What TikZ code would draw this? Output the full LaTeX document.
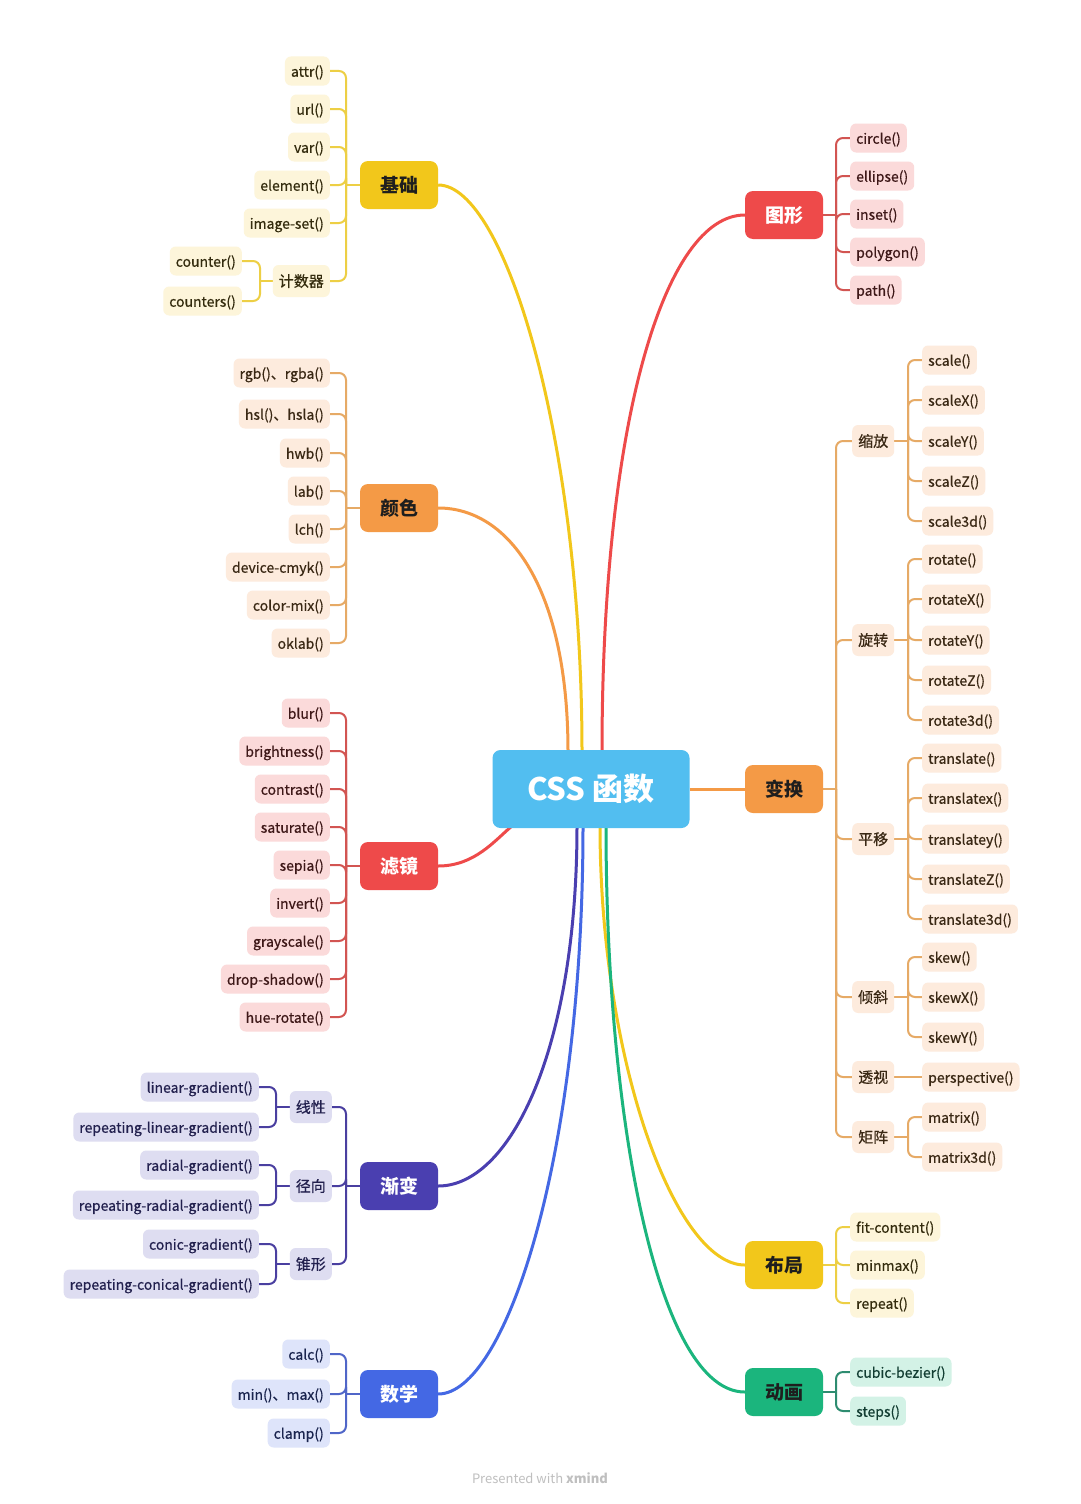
\documentclass[tikz,border=0pt]{standalone}
\usepackage{fontspec}
\setmainfont{Noto Sans CJK SC}
\newfontfamily\leaffont{Noto Sans CJK SC}[FakeBold=0.6]
\usetikzlibrary{calc}
\pgfdeclarelayer{bg}\pgfdeclarelayer{lines}\pgfsetlayers{bg,lines,main}
\definecolor{Cc}{HTML}{52BEF0}
\definecolor{Cy}{HTML}{F2C71B}
\definecolor{Co}{HTML}{F49A46}
\definecolor{Cr}{HTML}{EE4A4A}
\definecolor{Ci}{HTML}{4A3FB0}
\definecolor{Cb}{HTML}{4468E4}
\definecolor{Cg}{HTML}{1BB57D}
\definecolor{Fy}{HTML}{FDF5DA}
\definecolor{Fo}{HTML}{FDEBDD}
\definecolor{Fr}{HTML}{FBDADA}
\definecolor{Fi}{HTML}{DEDDF1}
\definecolor{Fb}{HTML}{DEE4FA}
\definecolor{Fg}{HTML}{D3F2E6}
\definecolor{Ly}{HTML}{EDCF45}
\definecolor{Lo}{HTML}{E6AA66}
\definecolor{Lr}{HTML}{D25552}
\definecolor{Li}{HTML}{4A3FA0}
\definecolor{Lb}{HTML}{5066C8}
\definecolor{Lg}{HTML}{2E8C70}
\definecolor{Ty}{HTML}{342C0E}
\definecolor{To}{HTML}{3A2814}
\definecolor{Tr}{HTML}{3E1818}
\definecolor{Ti}{HTML}{22204E}
\definecolor{Tb}{HTML}{1A244E}
\definecolor{Tg}{HTML}{123D32}
\definecolor{Tk}{HTML}{1E1E1E}
\begin{document}
\begin{tikzpicture}[x=1pt,y=-1pt,
  mainnode/.style={fill=Cc, rounded corners=8pt, minimum width=197pt, minimum height=78pt, text=white, font=\fontsize{31}{31}\selectfont\bfseries},
  branch/.style={rounded corners=8pt, minimum width=78pt, minimum height=48pt, inner sep=0pt, font=\fontsize{19}{19}\selectfont\bfseries},
  leaf/.style={rounded corners=6pt, inner xsep=6pt, inner ysep=0pt, minimum height=29pt, text height=12.5pt, text depth=1pt, font=\fontsize{14}{14}\selectfont\leaffont},
  subt/.style={leaf, font=\fontsize{15}{15}\selectfont\leaffont, minimum height=32pt},
  yl/.style={fill=Fy, text=Ty}, ol/.style={fill=Fo, text=To}, rl/.style={fill=Fr, text=Tr},
  il/.style={fill=Fi, text=Ti}, bl/.style={fill=Fb, text=Tb}, gl/.style={fill=Fg, text=Tg},
  conn/.style={line width=3pt},
  brk/.style={line width=2pt, rounded corners=7pt},
]
\begin{pgfonlayer}{bg}\fill[white] (0,0) rectangle (1080,1504);\end{pgfonlayer}
\useasboundingbox (0,0) rectangle (1080,1504);

% centre
\node[mainnode] (cen) at (591,789) {CSS 函数};
\coordinate (cT1) at (568,752);
\coordinate (cT2) at (582,752);
\coordinate (cT3) at (602,752);
\coordinate (cB1) at (577,826);
\coordinate (cB2) at (583,826);
\coordinate (cB3) at (600,826);
\coordinate (cB4) at (606,826);
\coordinate (cL1) at (512,826);

% ---------------- 基础
\node[branch, fill=Cy, text=Tk] (jc) at (399,185) {基础};
\coordinate (jcB) at (346,185);
\foreach \n/\y/\lab in {jc1/71/attr(), jc2/109/url(), jc3/147/var(), jc4/185/element(), jc5/223/image-set()}{
  \node[leaf, yl, anchor=east] (\n) at (330,\y) {\lab};
  \begin{pgfonlayer}{lines}\draw[brk, Ly] (jcB) |- (\n.east);\end{pgfonlayer}
}
\node[subt, yl, anchor=east] (jsq) at (330,281) {计数器};
\coordinate (jsqB) at (260,281);
\node[leaf, yl, anchor=east] (jsq1) at (242,261) {counter()};
\node[leaf, yl, anchor=east] (jsq2) at (242,301) {counters()};
\begin{pgfonlayer}{lines}
\draw[brk, Ly] (jcB) |- (jsq.east);
\draw[brk, Ly] (jc.west) -- (jcB);
\draw[brk, Ly] (jsq.west) -- (jsqB);
\draw[brk, Ly] (jsqB) |- (jsq1.east);
\draw[brk, Ly] (jsqB) |- (jsq2.east);
\draw[conn, Cy] (jc.east) .. controls (505,185) and (582,440) .. (cT2);
\end{pgfonlayer}

% ---------------- 颜色
\node[branch, fill=Co, text=Tk] (ys) at (399,508) {颜色};
\coordinate (ysB) at (346,508);
\foreach \n/\y/\lab in {ys1/373/rgb()、rgba(), ys2/414/hsl()、hsla(), ys3/453/hwb(), ys4/491/lab(), ys5/529/lch(), ys6/567/device-cmyk(), ys7/605/color-mix(), ys8/643/oklab()}{
  \node[leaf, ol, anchor=east] (\n) at (330,\y) {\lab};
  \begin{pgfonlayer}{lines}\draw[brk, Lo] (ysB) |- (\n.east);\end{pgfonlayer}
}
\begin{pgfonlayer}{lines}
\draw[brk, Lo] (ys.west) -- (ysB);
\draw[conn, Co] (ys.east) .. controls (510,508) and (568,590) .. (cT1);
\end{pgfonlayer}

% ---------------- 滤镜
\node[branch, fill=Cr, text=white] (lj) at (399,866) {滤镜};
\coordinate (ljB) at (346,866);
\foreach \n/\y/\lab in {lj1/713/blur(), lj2/751/brightness(), lj3/789/contrast(), lj4/827/saturate(), lj5/865/sepia(), lj6/903/invert(), lj7/941/grayscale(), lj8/979/drop-shadow(), lj9/1017/hue-rotate()}{
  \node[leaf, rl, anchor=east] (\n) at (330,\y) {\lab};
  \begin{pgfonlayer}{lines}\draw[brk, Lr] (ljB) |- (\n.east);\end{pgfonlayer}
}
\begin{pgfonlayer}{lines}
\draw[brk, Lr] (lj.west) -- (ljB);
\draw[conn, Cr] (lj.east) .. controls (475,866) and (495,840) .. (cL1);
\end{pgfonlayer}

% ---------------- 渐变
\node[branch, fill=Ci, text=white] (jb) at (399,1186) {渐变};
\coordinate (jbB) at (346,1186);
\foreach \s/\y/\lab/\ya/\la/\yb/\lb in {
  jx/1107/线性/1087/linear-gradient()/1127/repeating-linear-gradient(),
  jj/1186/径向/1165/radial-gradient()/1205/repeating-radial-gradient(),
  jz/1264/锥形/1244/conic-gradient()/1284/repeating-conical-gradient()}{
  \node[subt, il, anchor=east] (\s) at (332,\y) {\lab};
  \coordinate (\s B) at (276,\y);
  \node[leaf, il, anchor=east] (\s1) at (259,\ya) {\la};
  \node[leaf, il, anchor=east] (\s2) at (259,\yb) {\lb};
  \begin{pgfonlayer}{lines}
  \draw[brk, Li] (jbB) |- (\s.east);
  \draw[brk, Li] (\s.west) -- (\s B);
  \draw[brk, Li] (\s B) |- (\s1.east);
  \draw[brk, Li] (\s B) |- (\s2.east);
  \end{pgfonlayer}
}
\begin{pgfonlayer}{lines}
\draw[brk, Li] (jb.west) -- (jbB);
\draw[conn, Ci] (jb.east) .. controls (510,1186) and (577,1050) .. (cB1);
\end{pgfonlayer}

% ---------------- 数学
\node[branch, fill=Cb, text=white] (sx) at (399,1394) {数学};
\coordinate (sxB) at (346,1394);
\foreach \n/\y/\lab in {sx1/1354/calc(), sx2/1394/min()、max(), sx3/1433/clamp()}{
  \node[leaf, bl, anchor=east] (\n) at (330,\y) {\lab};
  \begin{pgfonlayer}{lines}\draw[brk, Lb] (sxB) |- (\n.east);\end{pgfonlayer}
}
\begin{pgfonlayer}{lines}
\draw[brk, Lb] (sx.west) -- (sxB);
\draw[conn, Cb] (sx.east) .. controls (505,1394) and (583,1160) .. (cB2);
\end{pgfonlayer}

% ---------------- 图形
\node[branch, fill=Cr, text=white] (tx) at (784,215) {图形};
\coordinate (txB) at (836,215);
\foreach \n/\y/\lab in {tx1/138/circle(), tx2/176/ellipse(), tx3/214/inset(), tx4/252/polygon(), tx5/290/path()}{
  \node[leaf, rl, anchor=west] (\n) at (850,\y) {\lab};
  \begin{pgfonlayer}{lines}\draw[brk, Lr] (txB) |- (\n.west);\end{pgfonlayer}
}
\begin{pgfonlayer}{lines}
\draw[brk, Lr] (tx.east) -- (txB);
\draw[conn, Cr] (tx.west) .. controls (665,215) and (602,420) .. (cT3);
\end{pgfonlayer}

% ---------------- 变换
\node[branch, fill=Co, text=Tk] (bh) at (784,789) {变换};
\coordinate (bhB) at (836,789);
\begin{pgfonlayer}{lines}
\draw[conn, Co] (cen.east) -- (bh.west);
\draw[brk, Lo] (bh.east) -- (bhB);
\end{pgfonlayer}
\foreach \s/\y/\lab in {sf/441/缩放, xz/640/旋转, py/839/平移, qx/997/倾斜, ts/1077/透视, jz/1137/矩阵}{
  \node[subt, ol, anchor=west] (\s) at (852,\y) {\lab};
  \coordinate (\s B) at (908,\y);
  \begin{pgfonlayer}{lines}\draw[brk, Lo] (bhB) |- (\s.west);\end{pgfonlayer}
}
\foreach \p/\n/\y/\lab in {sf/sf1/360/scale(), sf/sf2/400/scaleX(), sf/sf3/441/scaleY(), sf/sf4/481/scaleZ(), sf/sf5/521/scale3d(),
  xz/xz1/559/rotate(), xz/xz2/599/rotateX(), xz/xz3/640/rotateY(), xz/xz4/680/rotateZ(), xz/xz5/720/rotate3d(),
  py/py1/758/translate(), py/py2/798/translatex(), py/py3/839/translatey(), py/py4/879/translateZ(), py/py5/919/translate3d(),
  qx/qx1/957/skew(), qx/qx2/997/skewX(), qx/qx3/1037/skewY(),
  jz/jz1/1117/matrix(), jz/jz2/1157/matrix3d()}{
  \node[leaf, ol, anchor=west] (\n) at (922,\y) {\lab};
  \begin{pgfonlayer}{lines}
  \draw[brk, Lo] (\p.east) -- (\p B);
  \draw[brk, Lo] (\p B) |- (\n.west);
  \end{pgfonlayer}
}
\node[leaf, ol, anchor=west] (ts1) at (922,1077) {perspective()};
\begin{pgfonlayer}{lines}\draw[brk, Lo] (ts.east) -- (ts1.west);\end{pgfonlayer}

% ---------------- 布局
\node[branch, fill=Cy, text=Tk] (bj) at (784,1265) {布局};
\coordinate (bjB) at (836,1265);
\foreach \n/\y/\lab in {bj1/1227/fit-content(), bj2/1265/minmax(), bj3/1303/repeat()}{
  \node[leaf, yl, anchor=west] (\n) at (850,\y) {\lab};
  \begin{pgfonlayer}{lines}\draw[brk, Ly] (bjB) |- (\n.west);\end{pgfonlayer}
}
\begin{pgfonlayer}{lines}
\draw[brk, Ly] (bj.east) -- (bjB);
\draw[conn, Cy] (bj.west) .. controls (675,1265) and (600,1060) .. (cB3);
\end{pgfonlayer}

% ---------------- 动画
\node[branch, fill=Cg, text=Tk] (dh) at (784,1392) {动画};
\coordinate (dhB) at (836,1392);
\foreach \n/\y/\lab in {dh1/1372/cubic-bezier(), dh2/1411/steps()}{
  \node[leaf, gl, anchor=west] (\n) at (850,\y) {\lab};
  \begin{pgfonlayer}{lines}\draw[brk, Lg] (dhB) |- (\n.west);\end{pgfonlayer}
}
\begin{pgfonlayer}{lines}
\draw[brk, Lg] (dh.east) -- (dhB);
\draw[conn, Cg] (dh.west) .. controls (660,1392) and (606,1130) .. (cB4);
\end{pgfonlayer}

% watermark
\node[text=black!25, font=\fontsize{13}{13}\selectfont] (wm) at (540,1478) {Presented with \textbf{xmind}};
\end{tikzpicture}
\end{document}
